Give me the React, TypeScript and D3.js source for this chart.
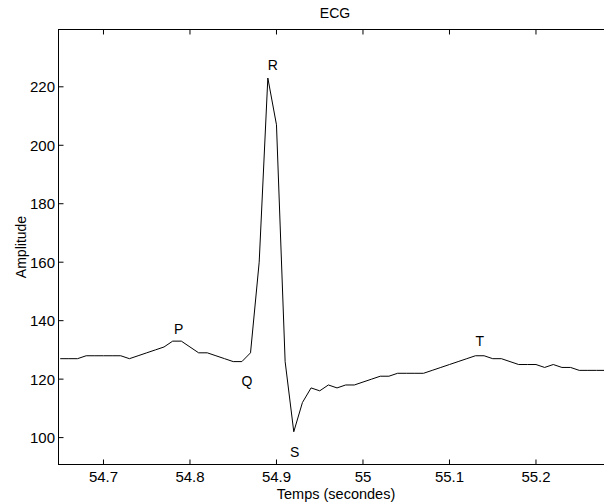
import React from "react";
import * as d3 from "d3";

const startTime = 54.65;
const sampleStep = 0.01;
const amplitudes = [
  127, 127, 127, 128, 128, 128, 128, 128, 127, 128,
  129, 130, 131, 133, 133, 131, 129, 129, 128, 127,
  126, 126, 129, 160, 223, 207, 126, 102, 112, 117,
  116, 118, 117, 118, 118, 119, 120, 121, 121, 122,
  122, 122, 122, 123, 124, 125, 126, 127, 128, 128,
  127, 127, 126, 125, 125, 125, 124, 125, 124, 124,
  123, 123, 123, 123,
];
const times = amplitudes.map((_, i) => startTime + i * sampleStep);

const xTicks = [54.7, 54.8, 54.9, 55, 55.1, 55.2];
const yTicks = [100, 120, 140, 160, 180, 200, 220];

const waveLabels = ["P", "Q", "R", "S", "T"];
const waveLabelTimes = [54.787, 54.866, 54.8957, 54.921, 55.135];
const waveLabelValues = [135.6, 117.8, 225.7, 93.3, 131.5];

const W = 604;
const H = 504;
const left = 58.5;
const right = 606;
const top = 29.5;
const bottom = 464.5;
const font = "'Liberation Sans', Arial, Helvetica, sans-serif";

export default function App() {
  const x = d3.scaleLinear().domain([54.648, 54.648 + (right - left) / 865]).range([left, right]);
  const y = d3.scaleLinear().domain([90.8, 239.6]).range([bottom, top]);
  const line = d3
    .line<number>()
    .x((_, i) => x(times[i]))
    .y((d) => y(d));
  const fmt = (v: number) => String(+v.toFixed(2));

  return (
    <svg
      width={W}
      height={H}
      style={{ position: "absolute", left: 0, top: 0, background: "#fff" }}
      fontFamily={font}
    >
      <rect x={0} y={0} width={W} height={H} fill="#fff" />
      <defs>
        <clipPath id="plotclip">
          <rect x={left} y={top} width={right - left} height={bottom - top} />
        </clipPath>
      </defs>
      <path d={line(amplitudes) || ""} fill="none" stroke="#000" strokeWidth={1} clipPath="url(#plotclip)" />
      <rect x={left} y={top} width={right - left} height={bottom - top} fill="none" stroke="#000" strokeWidth={1} />
      {xTicks.map((t) => (
        <g key={"x" + t}>
          <line x1={x(t)} x2={x(t)} y1={bottom} y2={bottom - 5} stroke="#000" />
          <line x1={x(t)} x2={x(t)} y1={top} y2={top + 5} stroke="#000" />
          <text x={x(t)} y={481.5} fontSize={15} textAnchor="middle" fill="#000">
            {fmt(t)}
          </text>
        </g>
      ))}
      {yTicks.map((v) => (
        <g key={"y" + v}>
          <line x1={left} x2={left + 5} y1={y(v)} y2={y(v)} stroke="#000" />
          <text x={55} y={y(v) + 5.5} fontSize={15} textAnchor="end" fill="#000">
            {v}
          </text>
        </g>
      ))}
      {waveLabels.map((l, i) => (
        <text
          key={l}
          x={x(waveLabelTimes[i])}
          y={y(waveLabelValues[i])}
          fontSize={14}
          textAnchor="middle"
          fill="#000"
        >
          {l}
        </text>
      ))}
      <text x={335} y={18} fontSize={14} textAnchor="middle" fill="#000">
        ECG
      </text>
      <text x={336} y={499} fontSize={14.5} textAnchor="middle" fill="#000">
        Temps (secondes)
      </text>
      <text
        transform={`translate(26,${(top + bottom) / 2}) rotate(-90)`}
        fontSize={14}
        textAnchor="middle"
        fill="#000"
      >
        Amplitude
      </text>
    </svg>
  );
}
